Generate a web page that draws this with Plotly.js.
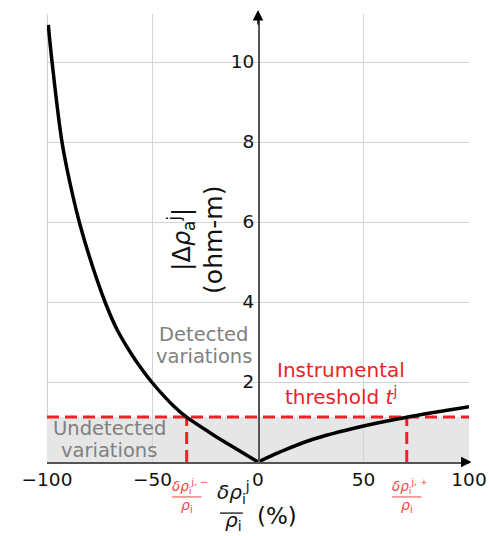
<!DOCTYPE html>
<html>
<head>
<meta charset="utf-8">
<script src="https://cdn.plot.ly/plotly-3.0.1.min.js"></script>
<style>html,body{margin:0;padding:0;background:#fff;}#chart{width:489px;height:536px;}</style>
</head>
<body>
<div id="chart"></div>
<script>
// ---- data ----
const leftX  = [-99.4, -97.6, -92.9, -89, -84.7, -80, -72.5, -66.7, -60, -55.9, -50.4, -40, -33.8, -20, -10, 0];
const leftY  = [10.93, 10.0, 8.0, 6.95, 6.0, 5.15, 4.0, 3.3, 2.7, 2.38, 2.0, 1.40, 1.12, 0.64, 0.32, 0];
const rightX = [0, 10, 25, 50, 70.5, 100];
const rightY = [0, 0.24, 0.55, 0.9, 1.12, 1.38];
const threshold = 1.125;
const crossMinus = -33.8;
const crossPlus = 70.5;
const xTickVals = [-100, -50, 0, 50, 100];
const xTickText = ['\u2212100', '\u221250', '0', '50', '100'];
const yTickVals = [2, 4, 6, 8, 10];
const yTickText = ['2', '4', '6', '8', '10'];
const xRange = [-100, 100];
const yRange = [0, 11.2];

const RED = 'rgb(236,34,38)';
const LRED = 'rgb(240,70,70)';
const GRAY = '#808080';
const FONT = 'DejaVu Sans';

const traces = [
  {x: [xRange[0], xRange[1]], y: [threshold, threshold], mode: 'lines',
   line: {color: RED, width: 3, dash: '12px,6px'}, hoverinfo: 'skip'},
  {x: [crossMinus, crossMinus], y: [0, threshold], mode: 'lines',
   line: {color: RED, width: 3, dash: '12px,6px'}, hoverinfo: 'skip'},
  {x: [crossPlus, crossPlus], y: [0, threshold], mode: 'lines',
   line: {color: RED, width: 3, dash: '12px,6px'}, hoverinfo: 'skip'},
  {x: leftX, y: leftY, mode: 'lines', line: {color: '#000', width: 3.5, shape: 'spline', smoothing: 1}},
  {x: rightX, y: rightY, mode: 'lines', line: {color: '#000', width: 3.5, shape: 'spline', smoothing: 1}}
];

const annotations = [
  // axis arrows
  {x: 0, y: 11.3, ax: 0, ay: 10.9, xref: 'x', yref: 'y', axref: 'x', ayref: 'y', text: '',
   showarrow: true, arrowhead: 2, arrowsize: 1.4, arrowwidth: 1.5, arrowcolor: '#000'},
  {x: 101.2, y: 0, ax: 98, ay: 0, xref: 'x', yref: 'y', axref: 'x', ayref: 'y', text: '',
   showarrow: true, arrowhead: 2, arrowsize: 1.4, arrowwidth: 1.5, arrowcolor: '#000'},
  // y title (two lines, rotated)
  {xref: 'paper', yref: 'paper', x: 0.272, y: 0.497, textangle: -90, showarrow: false,
   text: '|\u0394<i>\u03c1</i><sub>a</sub><sup>j</sup>|', font: {family: FONT, size: 24, color: '#111'}},
  {xref: 'paper', yref: 'paper', x: 0.396, y: 0.496, textangle: -90, showarrow: false,
   text: '(ohm-m)', font: {family: FONT, size: 25, color: '#111'}},
  // region labels
  {x: -25.6, y: 3.2, xref: 'x', yref: 'y', text: 'Detected', showarrow: false,
   font: {family: FONT, size: 19.5, color: GRAY}},
  {x: -25.6, y: 2.65, xref: 'x', yref: 'y', text: 'variations', showarrow: false,
   font: {family: FONT, size: 19.5, color: GRAY}},
  {x: -70.6, y: 0.83, xref: 'x', yref: 'y', text: 'Undetected', showarrow: false,
   font: {family: FONT, size: 19.5, color: GRAY}},
  {x: -70.6, y: 0.28, xref: 'x', yref: 'y', text: 'variations', showarrow: false,
   font: {family: FONT, size: 19.5, color: GRAY}},
  {x: 39.3, y: 2.3, xref: 'x', yref: 'y', text: 'Instrumental', showarrow: false,
   font: {family: FONT, size: 20, color: RED}},
  {x: 39.3, y: 1.65, xref: 'x', yref: 'y', text: 'threshold <i>t</i><sup>j</sup>', showarrow: false,
   font: {family: FONT, size: 20, color: RED}},
  // x title
  {xref: 'paper', yref: 'paper', x: 0.441, y: -0.104, text: '<i>\u03b4\u03c1</i><sub>i</sub><sup>j</sup>', showarrow: false,
   font: {family: FONT, size: 20, color: '#111'}},
  {xref: 'paper', yref: 'paper', x: 0.441, y: -0.166, text: '<i>\u03c1</i><sub>i</sub>', showarrow: false,
   font: {family: FONT, size: 20, color: '#111'}},
  {xref: 'paper', yref: 'paper', x: 0.546, y: -0.153, text: '(%)', showarrow: false,
   font: {family: FONT, size: 23, color: '#111'}}
];

// red fraction labels under the crossings
[[crossMinus, '\u2212'], [crossPlus, '+']].forEach(function (c) {
  annotations.push({xref: 'x', yref: 'paper', x: c[0], xshift: 3, y: -0.081,
    text: '<i>\u03b4\u03c1</i><sub>i</sub><sup>j, ' + c[1] + '</sup>', showarrow: false,
    font: {family: FONT, size: 13.5, color: LRED}});
  annotations.push({xref: 'x', yref: 'paper', x: c[0], y: -0.122,
    text: '<i>\u03c1</i><sub>i</sub>', showarrow: false,
    font: {family: FONT, size: 14, color: LRED}});
});

const shapes = [
  {type: 'rect', xref: 'x', yref: 'y', x0: xRange[0], x1: xRange[1], y0: 0, y1: threshold,
   fillcolor: '#e6e6e6', line: {width: 0}, layer: 'below'},
  // left edge gridline
  {type: 'line', xref: 'paper', yref: 'paper', x0: 0.001, x1: 0.001, y0: 0, y1: 1,
   line: {color: '#d4d4d4', width: 1.2}, layer: 'below'},
  // fraction bars
  {type: 'line', xref: 'x', yref: 'paper', x0: crossMinus - 7, x1: crossMinus + 7, y0: -0.078, y1: -0.078,
   line: {color: LRED, width: 1}},
  {type: 'line', xref: 'x', yref: 'paper', x0: crossPlus - 7, x1: crossPlus + 7, y0: -0.078, y1: -0.078,
   line: {color: LRED, width: 1}},
  {type: 'line', xref: 'paper', yref: 'paper', x0: 0.410, x1: 0.464, y0: -0.114, y1: -0.114,
   line: {color: '#111', width: 1.3}}
];

const layout = {
  width: 489, height: 536,
  margin: {l: 47, r: 20, t: 14, b: 74, pad: 0},
  paper_bgcolor: '#fff', plot_bgcolor: '#fff',
  showlegend: false,
  font: {family: FONT, color: '#111'},
  xaxis: {
    range: xRange, tickvals: xTickVals, ticktext: xTickText,
    showgrid: true, gridcolor: '#d4d4d4', gridwidth: 1,
    zeroline: false, showline: true, linecolor: '#555', linewidth: 1.5,
    ticks: '', tickfont: {family: FONT, size: 18.5, color: '#111'}, fixedrange: true
  },
  yaxis: {
    range: yRange, tickvals: yTickVals, ticktext: yTickText,
    anchor: 'free', position: 0.5, side: 'left',
    showgrid: true, gridcolor: '#d4d4d4', gridwidth: 1,
    zeroline: false, showline: true, linecolor: '#555', linewidth: 1.5,
    ticks: '', tickfont: {family: FONT, size: 18.5, color: '#111'}, fixedrange: true
  },
  annotations: annotations,
  shapes: shapes
};

Plotly.newPlot('chart', traces, layout, {displayModeBar: false, staticPlot: true});
</script>
</body>
</html>
